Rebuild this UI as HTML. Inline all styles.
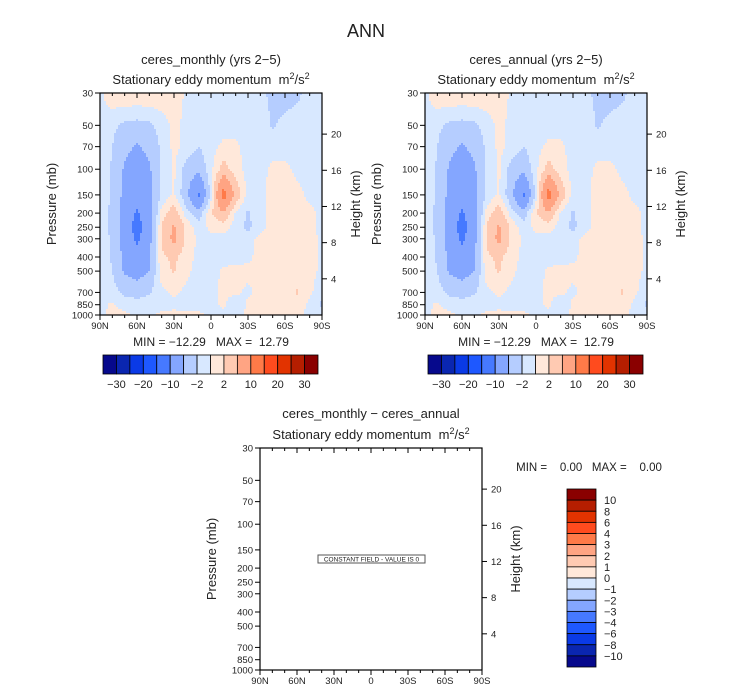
<!DOCTYPE html>
<html><head><meta charset="utf-8"><style>
html,body{margin:0;padding:0;background:#fff;}
svg{display:block;font-family:"Liberation Sans",sans-serif;}
svg text{white-space:pre;}
</style></head><body>
<svg id="fig" width="733" height="693" viewBox="0 0 733 693" xmlns="http://www.w3.org/2000/svg"></svg>
<script>
// ---- data ----
const lats = [90,80,70,60,50,40,30,20,10,0,-10,-20,-30,-40,-50,-60,-70,-80,-90];
const levels = [30,50,70,100,150,200,250,300,400,500,700,850,1000];
const field = [
 [-0.5,1.5,1.8,1.8,1.8,1.5,1,-0.3,-0.8,-1,-1,-1,-1,-1.5,-2.5,-2.8,-2.5,-1,-1],
 [-0.8,-1.5,-2.5,-2.8,-2.5,-1,0.5,-0.5,-1,-1,-1,-1,-1,-1,-2.2,-1.5,-1,-1,-1],
 [-1,-2,-4,-5.5,-4,-1.5,0.5,-0.5,-2,-0.8,0.5,0.5,-1,-1,-1,-1,-1,-1,-1],
 [-1,-2.2,-5.5,-7,-5.5,-1.5,0.3,-3,-4,-0.5,3,1,-0.8,-0.8,0.5,0.5,-0.5,-0.8,-0.8],
 [-1,-2.2,-6,-8,-6,-1.5,0.3,-4,-11,-1,12.5,4,-0.8,-0.5,0.8,0.8,0.6,-0.5,-0.8],
 [-1,-2.5,-7,-10.5,-7,0.8,3.5,-1,-3.5,1.8,4.5,-0.5,-2.3,-0.5,0.8,0.8,0.6,0.5,-0.5],
 [-1,-2.5,-7,-12,-7,2.2,5.5,1.5,-1,0.5,0.8,-0.8,-2.5,-0.8,0.8,0.8,0.8,0.6,-0.5],
 [-1,-2.3,-6.5,-11,-6.5,2.5,6,1.5,-0.5,-0.5,-0.8,-0.8,-1,0.8,0.8,0.8,0.8,0.8,-0.5],
 [-1,-2.2,-6,-8,-5,1.5,2.5,0.8,-0.5,-1,-1,-0.8,-0.5,0.8,0.8,0.8,0.8,0.8,-0.5],
 [-1,-2,-5.5,-6.5,-5,1.2,2.2,0.6,-1,-1,0.5,0.6,0.6,0.8,0.8,0.8,0.8,0.8,-0.5],
 [-1,-1,-2.5,-3,-2.2,-0.5,0.3,-0.5,-1,-0.8,0.5,0.5,-0.5,0.8,0.8,0.8,2.2,0.5,-1.5],
 [-0.5,0.3,-0.8,-1,-1,-0.8,-0.5,-0.8,-0.8,-0.8,0.5,-2.2,0.5,0.8,0.8,0.8,1,-0.5,-2.5],
 [-0.5,0.5,0.5,-0.5,-0.5,0.5,0.5,0.5,0.5,-0.5,-0.8,-0.8,0.5,0.8,0.8,0.8,0.5,-0.5,-1]
];
const bounds = [-30,-25,-20,-15,-10,-5,-2,0,2,5,10,15,20,25,30];
const barLabels = ["−30","−20","−10","−2","2","10","20","30"];
const diffLabels = ["10","8","6","4","3","2","1","0","−1","−2","−3","−4","−6","−8","−10"];
const presTicks = [30,50,70,100,150,200,250,300,400,500,700,850,1000];
const kmTicks = [4,8,12,16,20];
const latTicks = ["90N","60N","30N","0","30S","60S","90S"];
const colors = ["#06098c","#0a26b0","#0a3ae6","#1e58ff","#4679ff","#84a6ff","#b5cdff","#d8e8ff","#ffe8da","#ffcab2","#ffa483","#ff7a48","#ff4b1e","#e23300","#b51e00","#8a0000"];

const NS="http://www.w3.org/2000/svg";
const svg=document.getElementById('fig');
function mk(tag,attrs,parent){const e=document.createElementNS(NS,tag);for(const k in attrs)e.setAttribute(k,attrs[k]);(parent||svg).appendChild(e);return e;}
function txt(s,x,y,size,anchor,parent,name){const t=mk('text',{x:x,y:y,'font-size':size,'text-anchor':anchor||'middle',fill:'#222'},parent);t.textContent=s;


return t;}

const W=222,H=222;
function yOfP(p,oy){return oy+H-Math.log(1000/p)/Math.log(1000/30)*H;}
function xOfLat(l,ox){return ox+(90-l)/180*W;}
function colorIdx(v){let i=0;while(i<bounds.length&&v>=bounds[i])i++;return i;}
function sample(lat,p){
  let fi=(90-lat)/10; let i0=Math.min(17,Math.floor(fi)); let fx=fi-i0;
  const lp=Math.log(p); let j0=0;
  while(j0<levels.length-2&&Math.log(levels[j0+1])<lp)j0++;
  let fy=(lp-Math.log(levels[j0]))/(Math.log(levels[j0+1])-Math.log(levels[j0]));
  fy=Math.max(0,Math.min(1,fy));
  const a=field[j0][i0],b=field[j0][i0+1],c=field[j0+1][i0],d=field[j0+1][i0+1];
  return a*(1-fx)*(1-fy)+b*fx*(1-fy)+c*(1-fx)*fy+d*fx*fy;
}
function drawField(ox,oy,name){
  const g=mk('g',{});
  
  
  const st=2;
  for(let py=0;py<H;py+=st){
    const p=1000*Math.exp(-(H-(py+st/2))/H*Math.log(1000/30));
    let runStart=0,runC=-1;
    for(let px=0;px<=W;px+=st){
      let c=-2;
      if(px<W){const lat=90-(px+st/2)/W*180;c=colorIdx(sample(lat,p));}
      if(c!==runC){
        if(runC>=0){const r=mk('rect',{x:ox+runStart,y:oy+py,width:px-runStart+0.5,height:st+0.5,fill:colors[runC]},g);
          
          }
        runStart=px;runC=c;
      }
    }
  }
}
function drawAxes(ox,oy,cx){
  const g=mk('g',{stroke:'#000','stroke-width':1,fill:'none'});
  
  
  mk('rect',{x:ox,y:oy,width:W,height:H,'stroke-width':1.2},g);
  for(let l=90;l>=-90;l-=10){const x=xOfLat(l,ox);const maj=(l%30===0);
    mk('line',{x1:x,y1:oy+H,x2:x,y2:oy+H+(maj?5:3)},g);
    mk('line',{x1:x,y1:oy,x2:x,y2:oy+(maj?5:3)},g);}
  latTicks.forEach((s,i)=>txt(s,ox+i*W/6,oy+H+14,9.5,'middle',null,'x-tick-label'));
  presTicks.forEach(p=>{const y=yOfP(p,oy);mk('line',{x1:ox-5,y1:y,x2:ox,y2:y},g);
    txt(String(p),ox-7,y+3.5,9.5,'end',null,'y-tick-label');});
  kmTicks.forEach(k=>{const p=1000*Math.exp(-k/7);const y=yOfP(p,oy);mk('line',{x1:ox+W,y1:y,x2:ox+W+5,y2:y},g);
    txt(String(k),ox+W+9,y+3.5,9.5,'start',null,'right-tick-label');});
  const a=txt('Pressure (mb)',0,0,13,'middle',null,'y-axis-title');a.setAttribute('transform',`translate(${ox-44},${oy+H/2}) rotate(-90)`);
  const b=txt('Height (km)',0,0,13,'middle',null,'right-axis-title');b.setAttribute('transform',`translate(${ox+W+38},${oy+H/2}) rotate(-90)`);
}
function subtitle(cx,y){const t=mk('text',{x:cx,y:y,'font-size':13,'text-anchor':'middle',fill:'#222'});
  
  
  t.innerHTML='Stationary eddy momentum  m<tspan font-size="9" dy="-5">2</tspan><tspan dy="5">/s</tspan><tspan font-size="9" dy="-5">2</tspan>';}
function hbar(ox,oy,name){
  const g=mk('g',{});
  
  
  const bw=215/16;
  colors.forEach((c,i)=>{const r=mk('rect',{x:ox+i*bw,y:oy,width:bw,height:19,fill:c,stroke:'#000','stroke-width':0.8},g);
    
    });
  barLabels.forEach((s,k)=>txt(s,ox+(2*k+1)*bw,oy+33,11,'middle',null,'colorbar-label'));
}

txt('ANN',366,37,18,'middle',null,'main-title');
drawField(100,93,'contour-monthly');
drawAxes(100,93);
txt('ceres_monthly (yrs 2−5)',211,64,13,'middle',null,'plot-title');
subtitle(211,84);
txt('MIN = −12.29   MAX =  12.79',211,346,12,'middle',null,'min-max-text');
hbar(103,355,'colorbar-monthly');
drawField(425,93,'contour-annual');
drawAxes(425,93);
txt('ceres_annual (yrs 2−5)',536,64,13,'middle',null,'plot-title');
subtitle(536,84);
txt('MIN = −12.29   MAX =  12.79',536,346,12,'middle',null,'min-max-text');
hbar(428,355,'colorbar-annual');
drawAxes(260,448);
txt('ceres_monthly − ceres_annual',371,418,13,'middle',null,'plot-title');
subtitle(371,439);
txt('MIN =    0.00   MAX =    0.00',589,471,11.5,'middle',null,'min-max-text');
const cb=mk('rect',{x:318,y:555,width:107,height:8,fill:'#fff',stroke:'#555','stroke-width':1});


txt('CONSTANT FIELD - VALUE IS 0',371.5,561.5,6.5,'middle',null,'constant-field-text');
const vg=mk('g',{});


const bh=178/16;
colors.slice().reverse().forEach((c,i)=>{const r=mk('rect',{x:567,y:489+i*bh,width:29,height:bh,fill:c,stroke:'#000','stroke-width':0.8},vg);
  
  });
diffLabels.forEach((s,k)=>txt(s,604,489+(k+1)*bh+4,11,'start',null,'colorbar-label'));
</script>
</body></html>
